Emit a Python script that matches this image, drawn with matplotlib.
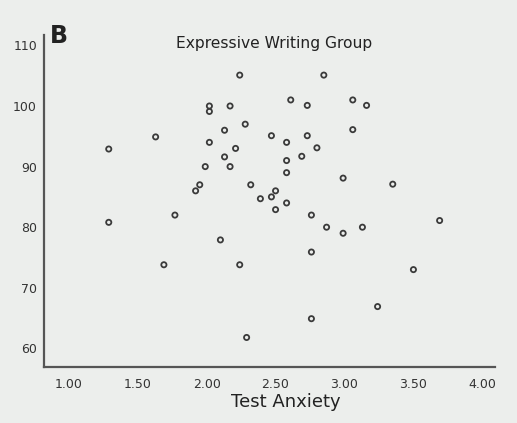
import numpy as np
import matplotlib
matplotlib.use("Agg")
from matplotlib import pyplot as plt

# test anxiety (x) vs score (y)
anxiety = [2.24, 2.85, 2.02, 2.02, 2.17, 2.61, 2.73, 3.06, 3.16, 2.28,
           2.13, 1.63, 2.47, 2.73, 3.06, 1.29, 2.02, 2.21, 2.58, 2.80,
           2.13, 2.69, 2.58, 1.99, 2.17, 2.58, 2.99, 3.35, 1.95, 2.32,
           1.92, 2.50, 2.39, 2.47, 2.58, 2.50, 1.29, 1.77, 2.76, 3.69,
           2.87, 3.13, 2.99, 2.10, 2.76, 1.69, 2.24, 3.50, 3.24, 2.76,
           2.29]
score = [105.1, 105.1, 100.0, 99.1, 100.0, 101.0, 100.1, 101.0, 100.1, 97.0,
         96.0, 94.9, 95.1, 95.1, 96.1, 92.9, 94.0, 93.0, 94.0, 93.1,
         91.6, 91.7, 91.0, 90.0, 90.0, 89.0, 88.1, 87.1, 87.0, 87.0,
         86.0, 86.0, 84.7, 85.0, 84.0, 82.9, 80.8, 82.0, 82.0, 81.1,
         80.0, 80.0, 79.0, 77.9, 75.9, 73.8, 73.8, 73.0, 66.9, 64.9,
         61.8]

xticks = [1.0, 1.5, 2.0, 2.5, 3.0, 3.5, 4.0]
yticks = [60, 70, 80, 90, 100, 110]

bg = "#eceeec"
ink = "#3a3a3a"

fig = plt.figure(figsize=(5.17, 4.23), dpi=100, facecolor=bg)
ax = fig.add_axes([0.085, 0.132, 0.872, 0.785], facecolor=bg)

ax.scatter(anxiety, score, s=14, facecolors="none", edgecolors=ink, linewidths=1.3)

ax.set_xlim(0.82, 4.09)
ax.set_ylim(56.9, 111.7)
ax.set_xticks(xticks)
ax.set_xticklabels(["%.2f" % v for v in xticks])
ax.set_yticks(yticks)
ax.tick_params(length=0, labelsize=9, colors="#333333")
ax.tick_params(axis="x", pad=8)
ax.tick_params(axis="y", pad=5)

for side in ["top", "right"]:
    ax.spines[side].set_visible(False)
for side in ["left", "bottom"]:
    ax.spines[side].set_color("#555555")
    ax.spines[side].set_linewidth(1.6)

fig.text(0.553, 0.05, "Test Anxiety", fontsize=13, color="#222222", ha="center", va="center")
fig.text(0.097, 0.915, "B", fontsize=17, fontweight="bold", color="#222222", va="center")
fig.text(0.530, 0.896, "Expressive Writing Group", fontsize=11.2, color="#222222",
         ha="center", va="center")

fig.savefig("out.png", dpi=100, facecolor=bg)
